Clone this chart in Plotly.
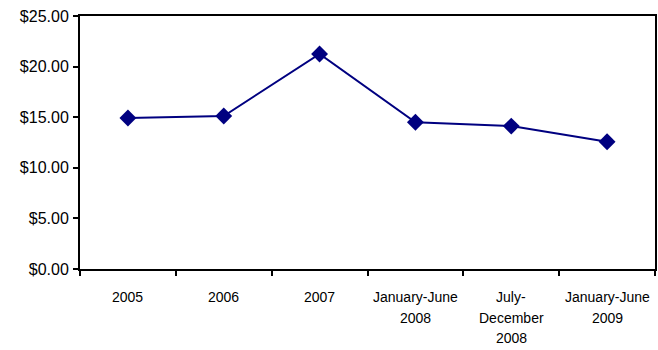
import plotly.graph_objects as go

categories = ["2005", "2006", "2007", "January-June 2008", "July-December 2008", "January-June 2009"]
tick_label_lines = [["2005"], ["2006"], ["2007"], ["January-June", "2008"],
                    ["July-", "December", "2008"], ["January-June", "2009"]]
values = [14.92, 15.12, 21.25, 14.5, 14.12, 12.58]
y_ticks = [0, 5, 10, 15, 20, 25]
y_tick_labels = ["$0.00", "$5.00", "$10.00", "$15.00", "$20.00", "$25.00"]

fig = go.Figure()
fig.add_trace(go.Scatter(
    x=categories, y=values, mode="lines+markers",
    line=dict(color="#000080", width=2),
    marker=dict(symbol="diamond", size=13, color="#000080"),
    showlegend=False,
))

for idx, lines in enumerate(tick_label_lines):
    for i, ln in enumerate(lines):
        fig.add_annotation(
            x=idx, xref="x", y=0, yref="paper", text=ln, showarrow=False,
            yanchor="middle", yshift=-(28 + 20.5 * i),
            font=dict(size=14, family="Liberation Sans, Arial, sans-serif", color="black"),
        )

fig.update_layout(
    width=658, height=350,
    margin=dict(l=80, r=1, t=16, b=81),
    paper_bgcolor="white", plot_bgcolor="white",
    font=dict(family="Liberation Sans, Arial, sans-serif", color="black"),
)
fig.update_xaxes(
    type="category", categoryorder="array", categoryarray=categories,
    range=[-0.5, len(categories) - 0.5],
    tickson="boundaries", ticks="outside", ticklen=5, tickwidth=1.5,
    tickcolor="black", showline=True, linecolor="black", linewidth=2, mirror=True,
    showgrid=False, showticklabels=False,
)
fig.update_yaxes(
    range=[0, 25], tickvals=y_ticks, ticktext=y_tick_labels, ticks="outside", ticklen=5,
    tickwidth=1.5, tickcolor="black", showline=True, linecolor="black", linewidth=2,
    mirror=True, showgrid=False, zeroline=False, tickfont=dict(size=16),
    ticklabelstandoff=1,
)

fig.write_html("out.html")
